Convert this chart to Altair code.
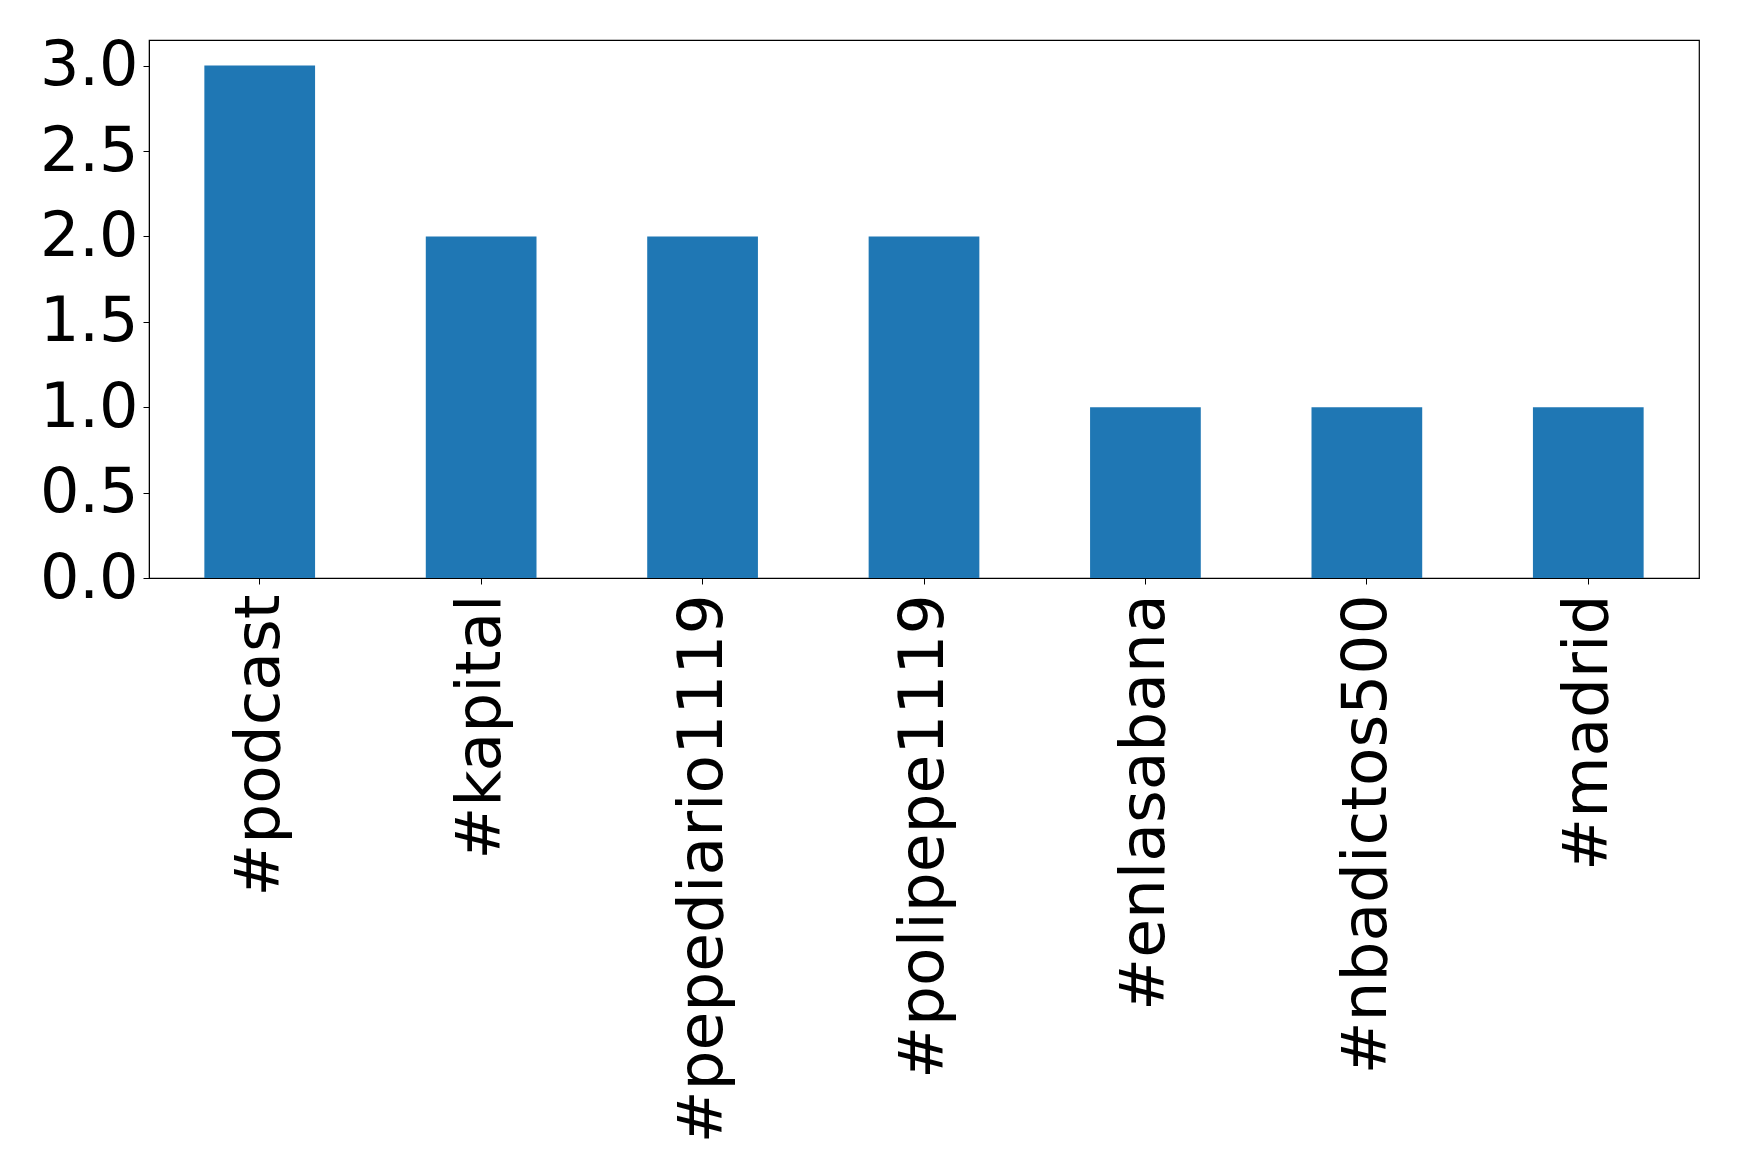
import altair as alt
import pandas as pd

hashtags = ["#podcast", "#kapital", "#pepediario1119", "#polipepe1119",
            "#enlasabana", "#nbadictos500", "#madrid"]
counts = [3, 2, 2, 2, 1, 1, 1]
y_ticks = [0.0, 0.5, 1.0, 1.5, 2.0, 2.5, 3.0]

df = pd.DataFrame({"tag": hashtags, "count": counts})

FONT = "DejaVu Sans"

chart = alt.Chart(df).mark_bar(color="#1f77b4").encode(
    x=alt.X("tag:N", sort=hashtags, title=None,
            scale=alt.Scale(paddingInner=0.5, paddingOuter=0.25),
            axis=alt.Axis(labelAngle=-90, labelFontSize=63, labelFont=FONT,
                          labelColor="black", tickColor="black", tickSize=6,
                          domainColor="black", labelPadding=10, labelLimit=0)),
    y=alt.Y("count:Q", title=None,
            scale=alt.Scale(domain=[0, 3.15], nice=False, zero=True),
            axis=alt.Axis(values=y_ticks, format=".1f", labelFontSize=62,
                          labelFont=FONT, labelColor="black", tickColor="black",
                          tickSize=6, domainColor="black", grid=False,
                          labelPadding=5)),
).properties(
    width=1550, height=538,
    autosize=alt.AutoSizeParams(type="none"),
    padding={"left": 141, "top": 32, "right": 30, "bottom": 580},
).configure_view(stroke="black", strokeWidth=1.2)

chart.save("out.html", embed_options={"renderer": "svg", "actions": False})
